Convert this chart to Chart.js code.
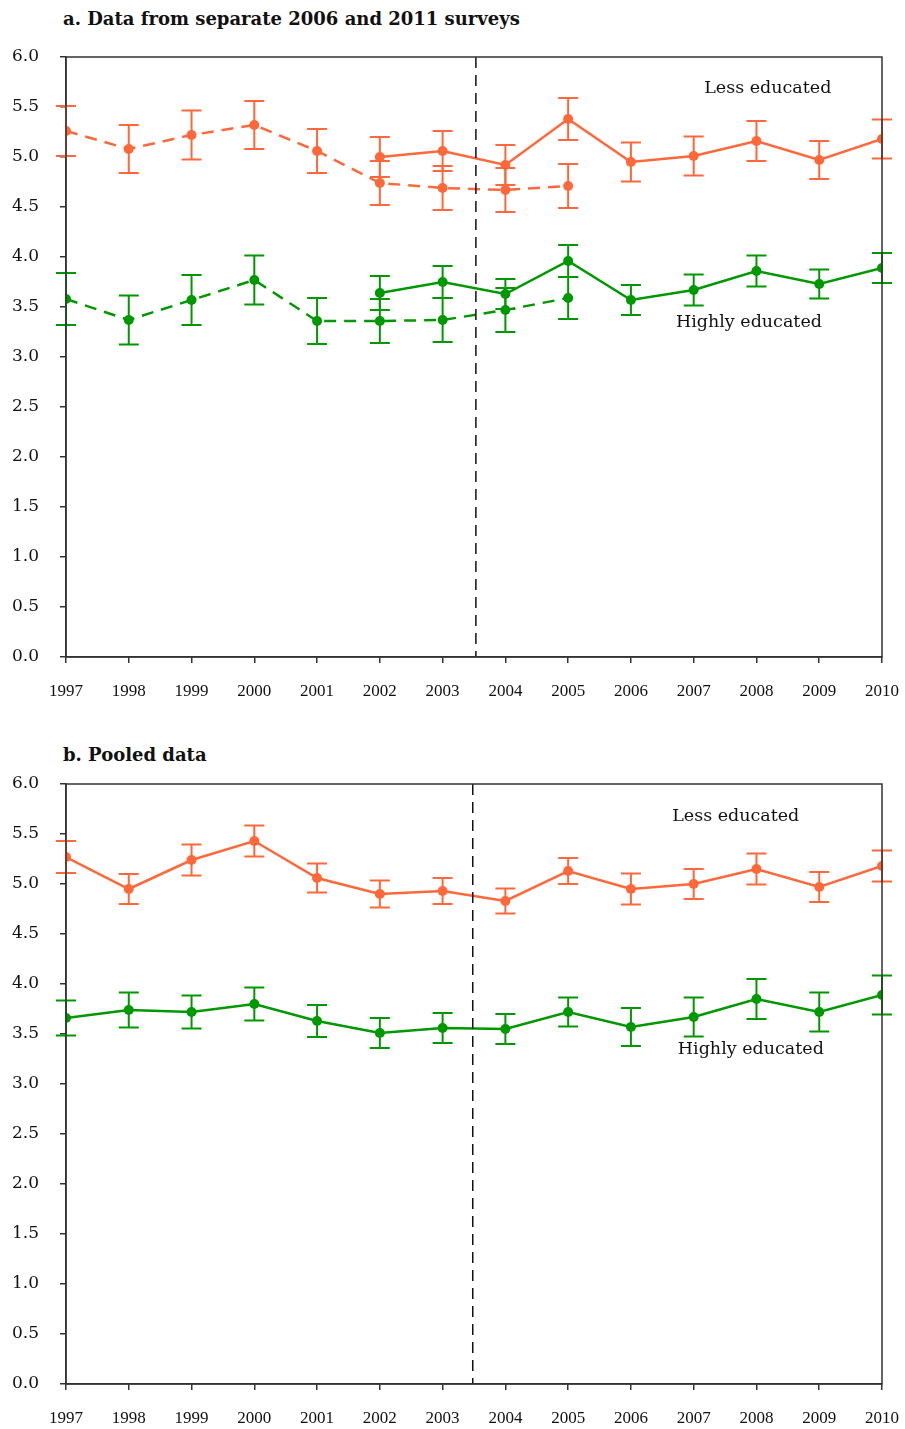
<!DOCTYPE html>
<html>
<head>
<meta charset="utf-8">
<script src="https://cdn.jsdelivr.net/npm/chart.js@4.4.1/dist/chart.umd.min.js"></script>
<style>
  body { margin: 0; background: #fff; width: 905px; height: 1429px; position: relative; overflow: hidden; }
  canvas { position: absolute; left: 0; }
  .ttl { position: absolute; left: 63px; font-family: "DejaVu Serif", serif; font-weight: bold; font-size: 18px; color: #111; }
</style>
</head>
<body>
<div class="ttl" style="top:8px">a. Data from separate 2006 and 2011 surveys</div>
<canvas id="chartA" width="905" height="720" style="top:0"></canvas>
<div class="ttl" style="top:744px">b. Pooled data</div>
<canvas id="chartB" width="905" height="709" style="top:720px"></canvas>
<script>
// years on the x axis
const years = [1997, 1998, 1999, 2000, 2001, 2002, 2003, 2004, 2005, 2006, 2007, 2008, 2009, 2010]
const yTicks = [0, 0.5, 1, 1.5, 2, 2.5, 3, 3.5, 4, 4.5, 5, 5.5, 6]

// panel a: 2006 survey (dashed) and 2011 survey (solid)
const lessA2006 = [5.26, 5.08, 5.22, 5.32, 5.06, 4.74, 4.69, 4.67, 4.71, null, null, null, null, null]
const lessA2006Err = [0.25, 0.24, 0.245, 0.24, 0.22, 0.22, 0.22, 0.22, 0.22, null, null, null, null, null]
const lessA2011 = [null, null, null, null, null, 5.00, 5.06, 4.92, 5.38, 4.95, 5.01, 5.16, 4.97, 5.18]
const lessA2011Err = [null, null, null, null, null, 0.20, 0.20, 0.20, 0.21, 0.195, 0.195, 0.20, 0.19, 0.195]
const highA2006 = [3.58, 3.37, 3.57, 3.77, 3.36, 3.36, 3.37, 3.47, 3.59, null, null, null, null, null]
const highA2006Err = [0.26, 0.245, 0.25, 0.245, 0.23, 0.22, 0.22, 0.22, 0.21, null, null, null, null, null]
const highA2011 = [null, null, null, null, null, 3.64, 3.75, 3.63, 3.96, 3.57, 3.67, 3.86, 3.73, 3.89]
const highA2011Err = [null, null, null, null, null, 0.17, 0.16, 0.15, 0.16, 0.15, 0.155, 0.155, 0.145, 0.15]

// panel b: pooled data
const lessB = [5.27, 4.95, 5.24, 5.43, 5.06, 4.90, 4.93, 4.83, 5.13, 4.95, 5.00, 5.15, 4.97, 5.18]
const lessBErr = [0.16, 0.15, 0.155, 0.155, 0.145, 0.135, 0.13, 0.125, 0.13, 0.155, 0.15, 0.155, 0.15, 0.155]
const highB = [3.66, 3.74, 3.72, 3.80, 3.63, 3.51, 3.56, 3.55, 3.72, 3.57, 3.67, 3.85, 3.72, 3.89]
const highBErr = [0.175, 0.175, 0.165, 0.165, 0.16, 0.15, 0.15, 0.15, 0.145, 0.19, 0.195, 0.2, 0.195, 0.195]

const ORANGE = 'rgb(255, 104, 58)'
const GREEN = 'rgb(0, 152, 0)'

// turn a list of values into {x, y} points, skipping the gaps
function toPoints(vals) {
  var pts = []
  for (var i = 0; i < vals.length; i++) {
    if (vals[i] !== null) pts.push({x: i, y: vals[i]})
  }
  return pts
}

function makeSet(vals, errs, color, dashed) {
  return {
    data: toPoints(vals),
    errors: errs,
    borderColor: color,
    backgroundColor: color,
    borderWidth: 2.5,
    borderDash: dashed ? [12, 8] : [],
    pointRadius: 5,
    pointHoverRadius: 5,
    pointBorderWidth: 0,
    tension: 0
  }
}

// error bars, frame, divider line and series names
const extras = {
  id: 'extras',
  afterDatasetsDraw(chart, args, opts) {
    var ctx = chart.ctx
    var xs = chart.scales.x, ys = chart.scales.y
    var area = chart.chartArea
    ctx.save()
    // error bars
    chart.data.datasets.forEach(function(ds) {
      ctx.strokeStyle = ds.borderColor
      ctx.lineWidth = 2
      ctx.setLineDash([])
      ds.data.forEach(function(p) {
        var e = ds.errors[p.x]
        var px = xs.getPixelForValue(p.x)
        var top = ys.getPixelForValue(p.y + e)
        var bot = ys.getPixelForValue(p.y - e)
        ctx.beginPath()
        ctx.moveTo(px, top); ctx.lineTo(px, bot)
        ctx.moveTo(px - 10, top); ctx.lineTo(px + 10, top)
        ctx.moveTo(px - 10, bot); ctx.lineTo(px + 10, bot)
        ctx.stroke()
      })
    })
    // dashed divider
    var dx = xs.getPixelForValue(opts.divider)
    ctx.strokeStyle = '#111'
    ctx.lineWidth = 1.5
    ctx.setLineDash([11, 7])
    ctx.beginPath()
    ctx.moveTo(dx, area.top); ctx.lineTo(dx, area.bottom)
    ctx.stroke()
    ctx.setLineDash([])
    // frame round the plot
    ctx.strokeStyle = '#333'
    ctx.lineWidth = 1.5
    ctx.strokeRect(area.left, area.top, area.right - area.left, area.bottom - area.top)
    // series names
    ctx.fillStyle = '#111'
    ctx.font = '17.5px "DejaVu Serif", serif'
    ctx.textAlign = 'center'
    ctx.textBaseline = 'middle'
    opts.names.forEach(function(n) {
      ctx.fillText(n.text, xs.getPixelForValue(n.x), ys.getPixelForValue(n.y))
    })
    ctx.restore()
  }
}

function makeChart(id, datasets, divider, names, padTop, padBottom) {
  var ctx = document.getElementById(id).getContext('2d')
  return new Chart(ctx, {
    type: 'line',
    data: { datasets: datasets },
    plugins: [extras],
    options: {
      responsive: false,
      animation: false,
      layout: { padding: { top: padTop, right: 23, left: 0, bottom: padBottom } },
      plugins: {
        legend: { display: false },
        tooltip: { enabled: false },
        extras: { divider: divider, names: names }
      },
      scales: {
        x: {
          type: 'linear',
          min: 0,
          max: years.length - 1,
          afterFit: function(s) { s.height = 40; s.paddingLeft = 0; s.paddingRight = 0 },
          afterBuildTicks: function(s) { s.ticks = years.map(function(y, i) { return {value: i} }) },
          grid: { drawOnChartArea: false, drawTicks: true, tickLength: 6, color: '#333', lineWidth: 1.5 },
          border: { display: true, color: '#333', width: 1.5 },
          ticks: {
            padding: 18,
            color: '#111',
            font: { family: '"Liberation Serif", serif', size: 17 },
            callback: function(v) { return years[v] }
          }
        },
        y: {
          min: 0,
          max: 6,
          afterFit: function(s) { s.width = 66; s.paddingTop = 0; s.paddingBottom = 0 },
          afterBuildTicks: function(s) { s.ticks = yTicks.map(function(v) { return {value: v} }) },
          grid: { drawOnChartArea: false, drawTicks: true, tickLength: 6, color: '#333', lineWidth: 1.5 },
          border: { display: true, color: '#333', width: 1.5 },
          ticks: {
            padding: 21,
            color: '#111',
            font: { family: '"DejaVu Serif", serif', size: 17 },
            callback: function(v) { return v.toFixed(1) }
          }
        }
      }
    }
  })
}

makeChart('chartA', [
  makeSet(lessA2006, lessA2006Err, ORANGE, true),
  makeSet(lessA2011, lessA2011Err, ORANGE, false),
  makeSet(highA2006, highA2006Err, GREEN, true),
  makeSet(highA2011, highA2011Err, GREEN, false)
], 6.53, [
  {text: 'Less educated', x: 11.18, y: 5.69},
  {text: 'Highly educated', x: 10.88, y: 3.35}
], 57, 23)

makeChart('chartB', [
  makeSet(lessB, lessBErr, ORANGE, false),
  makeSet(highB, highBErr, GREEN, false)
], 6.48, [
  {text: 'Less educated', x: 10.67, y: 5.68},
  {text: 'Highly educated', x: 10.91, y: 3.35}
], 64, 5)
</script>
</body>
</html>
